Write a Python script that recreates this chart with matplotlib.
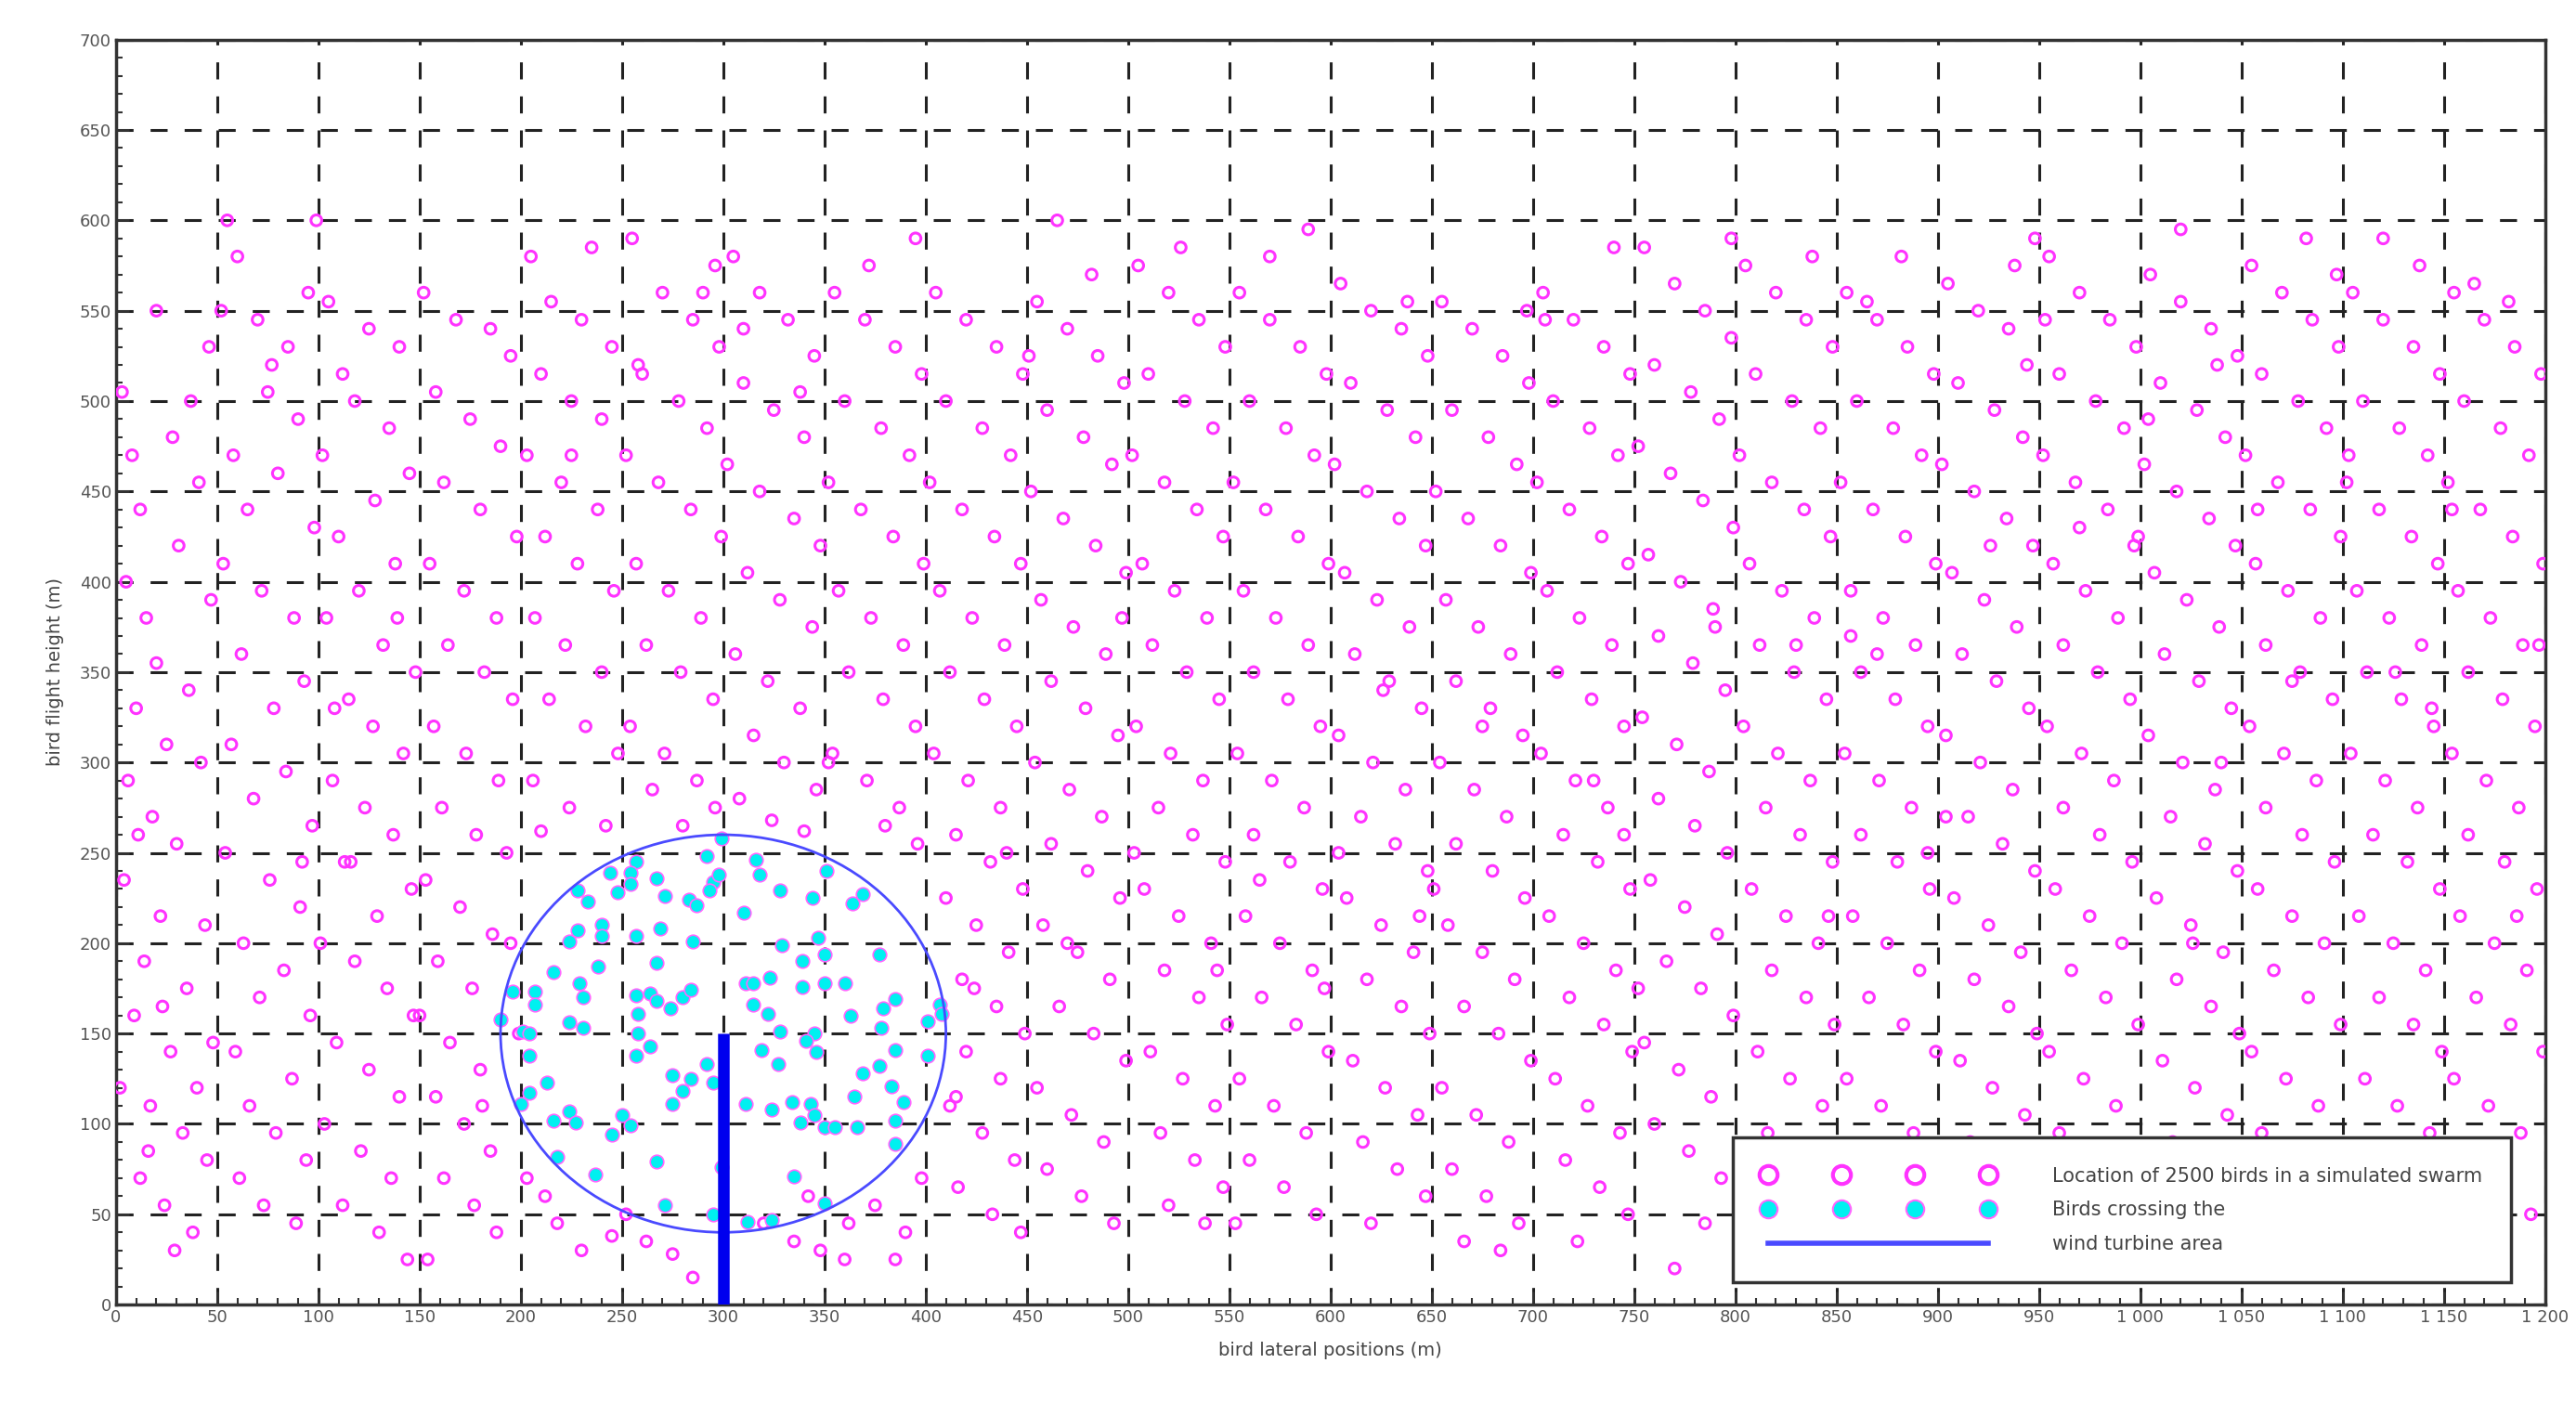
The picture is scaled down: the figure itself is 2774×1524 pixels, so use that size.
import matplotlib
matplotlib.use("Agg")
import matplotlib.pyplot as plt
from matplotlib.lines import Line2D
from matplotlib.ticker import MultipleLocator, FuncFormatter

swarm_pts = """
3,505 8,470 12,440 5,400 15,380 20,355 10,330 25,310 6,290 18,270 30,255 4,235 22,215 14,190 35,175 9,160 27,140 40,120 17,110 33,95 45,80 12,70 24,55 38,40 29,30 44,210 42,300 36,340 47,390 31,420 41,455 28,480 46,530 20,550 37,500 11,260 23,165 48,145 2,120 16,85
55,600 60,580 52,550 70,545 85,530 95,560 75,505 90,490 58,470 80,460 65,440 98,430 53,410 72,395 88,380 62,360 93,345 78,330 57,310 84,295 68,280 97,265 54,250 76,235 91,220 63,200 83,185 71,170 96,160 59,140 87,125 66,110 79,95 94,80 61,70 73,55 89,45 99,600 77,520 92,245
105,555 112,515 125,540 140,530 118,500 135,485 102,470 145,460 128,445 110,425 138,410 120,395 104,380 132,365 148,350 115,335 127,320 142,305 107,290 123,275 137,260 113,245 146,230 129,215 101,200 118,190 134,175 147,160 109,145 125,130 140,115 103,100 121,85 136,70 112,55 130,40 144,25 116,245 139,380 108,330
152,560 168,545 185,540 195,525 158,505 175,490 190,475 162,455 180,440 198,425 155,410 172,395 188,380 164,365 182,350 196,335 157,320 173,305 189,290 161,275 178,260 193,250 153,235 170,220 186,205 159,190 176,175 150,160 165,145 180,130 158,115 172,100 185,85 162,70 177,55 188,40 154,25 195,200 199,150 181,110
205,580 215,555 230,545 245,530 210,515 225,500 240,490 203,470 220,455 238,440 212,425 228,410 246,395 207,380 222,365 240,350 214,335 232,320 248,305 206,290 224,275 242,265 210,262 235,585 218,45 230,30 245,38 203,70 212,60 225,470
255,590 270,560 285,545 298,530 260,515 278,500 292,485 252,470 268,455 284,440 299,425 257,410 273,395 289,380 262,365 279,350 295,335 254,320 271,305 287,290 296,275 265,285 280,265 258,520 290,560 275,28 262,35 285,15 252,50 296,575
305,580 318,560 332,545 345,525 310,510 325,495 340,480 302,465 318,450 335,435 348,420 312,405 328,390 344,375 306,360 322,345 338,330 315,315 330,300 346,285 308,280 324,268 340,262 352,300 320,45 335,35 348,30 342,60 310,540 338,505
355,560 370,545 385,530 398,515 360,500 378,485 392,470 352,455 368,440 384,425 399,410 357,395 373,380 389,365 362,350 379,335 395,320 354,305 371,290 387,275 396,255 380,265 362,45 375,55 390,40 398,70 360,25 385,25 372,575 395,590
405,560 420,545 435,530 448,515 410,500 428,485 442,470 402,455 418,440 434,425 447,410 407,395 423,380 439,365 412,350 429,335 445,320 404,305 421,290 437,275 415,260 432,245 448,230 410,225 425,210 441,195 418,180 435,165 449,150 420,140 437,125 412,110 428,95 444,80 416,65 433,50 447,40 415,115 440,250 424,175
455,555 470,540 485,525 498,510 460,495 478,480 492,465 452,450 468,435 484,420 499,405 457,390 473,375 489,360 462,345 479,330 495,315 454,300 471,285 487,270 462,255 480,240 496,225 458,210 475,195 491,180 466,165 483,150 499,135 455,120 472,105 488,90 460,75 477,60 493,45 465,600 482,570 451,525 497,380 470,200
505,575 520,560 535,545 548,530 510,515 528,500 542,485 502,470 518,455 534,440 547,425 507,410 523,395 539,380 512,365 529,350 545,335 504,320 521,305 537,290 515,275 532,260 548,245 508,230 525,215 541,200 518,185 535,170 549,155 511,140 527,125 543,110 516,95 533,80 547,65 520,55 538,45 526,585 503,250 544,185
555,560 570,545 585,530 598,515 560,500 578,485 592,470 552,455 568,440 584,425 599,410 557,395 573,380 589,365 562,350 579,335 595,320 554,305 571,290 587,275 562,260 580,245 596,230 558,215 575,200 591,185 566,170 583,155 599,140 555,125 572,110 588,95 560,80 577,65 593,50 570,580 589,595 553,45 597,175 565,235
605,565 620,550 635,540 648,525 610,510 628,495 642,480 602,465 618,450 634,435 647,420 607,405 623,390 639,375 612,360 629,345 645,330 604,315 621,300 637,285 615,270 632,255 648,240 608,225 625,210 641,195 618,180 635,165 649,150 611,135 627,120 643,105 616,90 633,75 647,60 620,45 638,555 604,250 644,215 626,340
655,555 670,540 685,525 698,510 660,495 678,480 692,465 652,450 668,435 684,420 699,405 657,390 673,375 689,360 662,345 679,330 695,315 654,300 671,285 687,270 662,255 680,240 696,225 658,210 675,195 691,180 666,165 683,150 699,135 655,120 672,105 688,90 660,75 677,60 693,45 666,35 684,30 697,550 651,230 675,320
705,560 720,545 735,530 748,515 710,500 728,485 742,470 702,455 718,440 734,425 747,410 707,395 723,380 739,365 712,350 729,335 745,320 704,305 721,290 737,275 715,260 732,245 748,230 708,215 725,200 741,185 718,170 735,155 749,140 711,125 727,110 743,95 716,80 733,65 747,50 722,35 740,585 706,545 730,290 745,260
755,585 770,565 785,550 798,535 760,520 778,505 792,490 752,475 768,460 784,445 799,430 757,415 773,400 789,385 762,370 779,355 795,340 754,325 771,310 787,295 762,280 780,265 796,250 758,235 775,220 791,205 766,190 783,175 799,160 755,145 772,130 788,115 760,100 777,85 793,70 770,20 785,45 798,590 752,175 790,375
805,575 820,560 835,545 848,530 810,515 828,500 842,485 802,470 818,455 834,440 847,425 807,410 823,395 839,380 812,365 829,350 845,335 804,320 821,305 837,290 815,275 832,260 848,245 808,230 825,215 841,200 818,185 835,170 849,155 811,140 827,125 843,110 816,95 833,80 847,65 820,50 838,580 803,45 830,365 846,215
855,560 870,545 885,530 898,515 860,500 878,485 892,470 852,455 868,440 884,425 899,410 857,395 873,380 889,365 862,350 879,335 895,320 854,305 871,290 887,275 862,260 880,245 896,230 858,215 875,200 891,185 866,170 883,155 899,140 855,125 872,110 888,95 860,80 877,65 893,50 865,555 882,580 857,370 870,360 895,250
905,565 920,550 935,540 948,590 910,510 928,495 942,480 902,465 918,450 934,435 947,420 907,405 923,390 939,375 912,360 929,345 945,330 904,315 921,300 937,285 915,270 932,255 948,240 908,225 925,210 941,195 918,180 935,165 949,150 911,135 927,120 943,105 916,90 933,75 947,60 920,50 938,575 904,270 944,520 926,420
955,580 970,560 985,545 998,530 960,515 978,500 992,485 952,470 968,455 984,440 999,425 957,410 973,395 989,380 962,365 979,350 995,335 954,320 971,305 987,290 962,275 980,260 996,245 958,230 975,215 991,200 966,185 983,170 999,155 955,140 972,125 988,110 960,95 977,80 993,65 965,50 982,40 997,420 953,545 970,430
1005,570 1020,555 1035,540 1048,525 1010,510 1028,495 1042,480 1002,465 1018,450 1034,435 1047,420 1007,405 1023,390 1039,375 1012,360 1029,345 1045,330 1004,315 1021,300 1037,285 1015,270 1032,255 1048,240 1008,225 1025,210 1041,195 1018,180 1035,165 1049,150 1011,135 1027,120 1043,105 1016,90 1033,75 1047,60 1020,595 1038,520 1004,490 1026,200 1040,300
1055,575 1070,560 1085,545 1098,530 1060,515 1078,500 1092,485 1052,470 1068,455 1084,440 1099,425 1057,410 1073,395 1089,380 1062,365 1079,350 1095,335 1054,320 1071,305 1087,290 1062,275 1080,260 1096,245 1058,230 1075,215 1091,200 1066,185 1083,170 1099,155 1055,140 1072,125 1088,110 1060,95 1077,80 1093,65 1065,50 1082,590 1097,570 1058,440 1075,345
1105,560 1120,545 1135,530 1148,515 1110,500 1128,485 1142,470 1102,455 1118,440 1134,425 1147,410 1107,395 1123,380 1139,365 1112,350 1129,335 1145,320 1104,305 1121,290 1137,275 1115,260 1132,245 1148,230 1108,215 1125,200 1141,185 1118,170 1135,155 1149,140 1111,125 1127,110 1143,95 1116,80 1133,65 1147,50 1120,590 1138,575 1103,470 1126,350 1144,330
1155,560 1170,545 1185,530 1198,515 1160,500 1178,485 1192,470 1152,455 1168,440 1184,425 1199,410 1157,395 1173,380 1189,365 1162,350 1179,335 1195,320 1154,305 1171,290 1187,275 1162,260 1180,245 1196,230 1158,215 1175,200 1191,185 1166,170 1183,155 1199,140 1155,125 1172,110 1188,95 1160,80 1177,65 1193,50 1165,565 1182,555 1197,365 1154,440 1186,215
"""

crossing_pts = """
299,258 292,248 316,246 318,238 257,245 254,239 254,233 244,239 267,236 228,229 233,223 248,228 271,226 283,224
287,221 295,234 298,238 293,229 328,229 344,225 351,240 364,222 369,227 310,217 224,201 228,207 240,210 240,204
257,204 269,208 285,201 329,199 347,203 350,194 339,190 377,194 267,189 216,184 238,187 196,173 207,173 207,166
229,178 231,170 257,171 264,172 267,168 274,164 280,170 284,174 311,178 315,178 323,181 339,176 350,178 360,178
385,169 379,164 407,166 408,161 363,160 315,166 322,161 190,158 201,151 204,150 224,156 231,153 258,161 258,150
264,143 257,138 328,151 345,150 341,146 346,140 378,153 401,157 319,141 327,133 385,141 401,138 204,138 292,133
295,123 377,132 369,128 275,127 284,125 280,118 275,111 213,123 204,117 200,111 216,102 224,107 227,101 250,105
254,99 245,94 311,111 324,108 334,112 343,111 345,105 338,101 350,98 355,98 365,115 383,121 389,112 385,102
366,98 385,89 218,82 237,72 267,79 299,76 335,71 271,55 295,50 312,46 324,47 350,56
"""

def parse(s):
    xs, ys = [], []
    for tok in s.split():
        a, b = tok.split(",")
        xs.append(float(a)); ys.append(float(b))
    return xs, ys

swarm_x, swarm_y = parse(swarm_pts)
cross_x, cross_y = parse(crossing_pts)

turbine_center = (300, 150)
turbine_radius = 110
tower_x = [300, 300]
tower_y = [0, 150]

x_ticks = list(range(0, 1201, 50))
y_ticks = list(range(0, 701, 50))

fig = plt.figure(figsize=(27.74, 15.24), dpi=100)
ax = fig.add_axes([0.045, 0.078, 0.943, 0.894])

ax.scatter(swarm_x, swarm_y, s=70, facecolors="none", edgecolors="#ff33ff", linewidths=2.2, zorder=3)
ax.scatter(cross_x, cross_y, s=110, facecolors="#00f0f0", edgecolors="#ff66ff", linewidths=1.2, zorder=4)

circle = plt.Circle(turbine_center, turbine_radius, fill=False, color="#4a4aff", lw=2, zorder=5)
ax.add_patch(circle)
ax.plot(tower_x, tower_y, color="#0000ee", lw=9, solid_capstyle="butt", zorder=6)

ax.set_xlim(0, 1200)
ax.set_ylim(0, 700)
ax.set_xticks(x_ticks)
ax.set_yticks(y_ticks)
ax.xaxis.set_minor_locator(MultipleLocator(10))
ax.yaxis.set_minor_locator(MultipleLocator(10))
ax.xaxis.set_major_formatter(FuncFormatter(lambda v, p: f"{int(v):,}".replace(",", " ")))
ax.tick_params(which="both", direction="in", colors="#333333", labelcolor="#555555", labelsize=13)
ax.tick_params(which="major", length=10, width=2)
ax.tick_params(which="minor", length=5, width=1.5)
ax.grid(True, which="major", color="#222222", linestyle=(0, (6, 6)), linewidth=2.2, zorder=1)
for sp in ax.spines.values():
    sp.set_linewidth(2.5)
    sp.set_color("#333333")

ax.set_xlabel("bird lateral positions (m)", fontsize=14, color="#444444", labelpad=12)
ax.set_ylabel("bird flight height (m)", fontsize=14, color="#444444", labelpad=12)

h1 = Line2D([], [], linestyle="none", marker="o", markersize=14, markerfacecolor="none",
            markeredgecolor="#ff33ff", markeredgewidth=3)
h2 = Line2D([], [], linestyle="none", marker="o", markersize=14, markerfacecolor="#00f0f0",
            markeredgecolor="#ff66ff", markeredgewidth=1.5)
h3 = Line2D([], [], color="#4a4aff", lw=4)
leg = ax.legend([h1, h2, h3],
                ["Location of 2500 birds in a simulated swarm", "Birds crossing the", "wind turbine area"],
                loc="lower right", bbox_to_anchor=(0.99, 0.01), numpoints=4, handlelength=12,
                fontsize=15, frameon=True, fancybox=False, framealpha=1, borderpad=1.5,
                labelspacing=0.8, handletextpad=3)
leg.get_frame().set_edgecolor("#333333")
leg.get_frame().set_linewidth(2.5)
leg.set_zorder(10)
for t in leg.get_texts():
    t.set_color("#444444")

fig.savefig("out.png", dpi=100, facecolor="white")
